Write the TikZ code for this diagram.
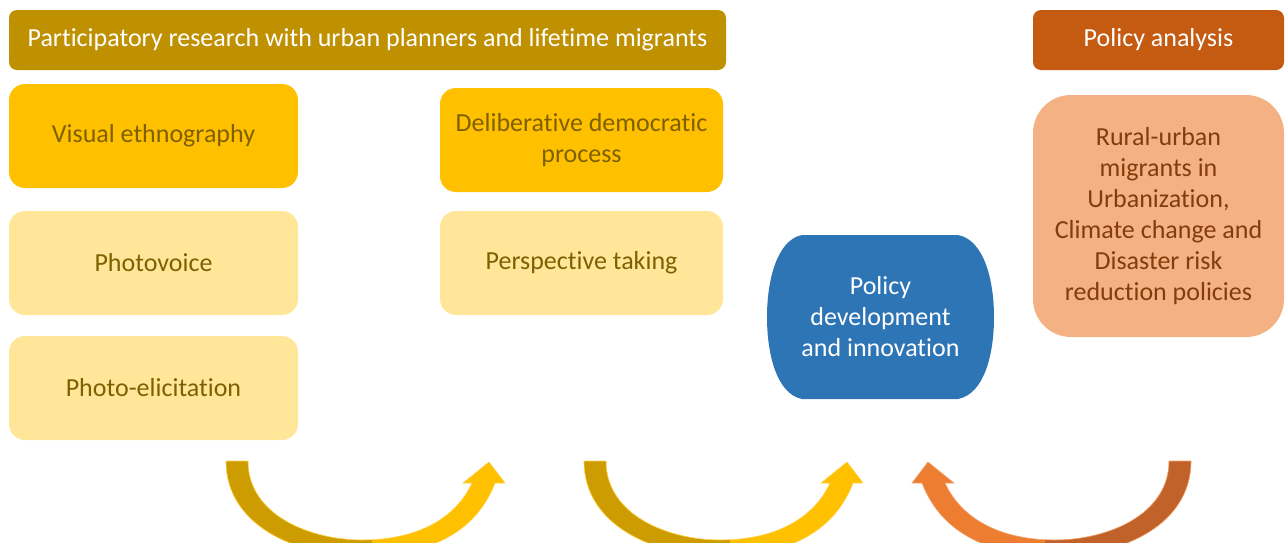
\documentclass[tikz,border=0pt]{standalone}
\usepackage{fontspec}
\setmainfont{Carlito}[Ligatures=NoCommon]
\definecolor{hdrgold}{HTML}{BF9000}
\definecolor{hdrorange}{HTML}{C55A11}
\definecolor{gold}{HTML}{FFC000}
\definecolor{lightgold}{HTML}{FFE699}
\definecolor{darkgoldtext}{HTML}{7F6000}
\definecolor{peach}{HTML}{F4B183}
\definecolor{browntext}{HTML}{843C0C}
\definecolor{polblue}{HTML}{2E75B6}
\definecolor{arrowdark}{HTML}{CC9C00}
\definecolor{arrowlight}{HTML}{FFC000}
\definecolor{orangelight}{HTML}{ED7D31}
\definecolor{orangedark}{HTML}{C0622A}
\tikzset{
  hdr/.style={rounded corners=8pt, text=white, align=center, inner sep=0pt, font=\fontsize{26}{31}\selectfont},
  ybox/.style={rounded corners=16pt, text=darkgoldtext, align=center, inner sep=0pt, minimum width=289pt, minimum height=104pt, font=\fontsize{26}{31}\selectfont},
  rbox/.style={rounded corners=38pt, fill=peach, text=browntext, align=center, inner sep=0pt, font=\fontsize{26}{31}\selectfont},
  btext/.style={text=white, align=center, inner sep=0pt, font=\fontsize{26}{31}\selectfont},
}
\newcommand{\myarrowpath}{(226,461) -- (248,461) .. controls (248,515) and (310,540) .. (362,540) .. controls (415,540) and (455,520) .. (472,483) -- (463,483) -- (489,462) -- (505,483) -- (495,483) .. controls (475,535) and (425,556) .. (362,556) .. controls (295,556) and (226,525) .. (226,461) -- cycle}
\newcommand{\myarrow}[2]{%
  \fill[#2] \myarrowpath;
  \begin{scope}
    \clip (200,440) rectangle (372,570);
    \fill[#1] \myarrowpath;
  \end{scope}
  \draw[#2!70!white, line width=0.6pt] \myarrowpath;
}
\begin{document}
\begin{tikzpicture}[x=1pt,y=-1pt]
\useasboundingbox (0,0) rectangle (1285,542);
% headers
\node[hdr, fill=hdrgold, minimum width=717pt, minimum height=60pt] (hdr1) at (367.5,40) {Participatory research with urban planners and lifetime migrants};
\node[hdr, fill=hdrorange, minimum width=251pt, minimum height=60pt] (hdr2) at (1158.5,40) {Policy analysis};
% left column
\node[ybox, fill=gold] (ve) at (153.5,136) {Visual ethnography};
\node[ybox, fill=lightgold] (pv) at (153.5,263) {Photovoice};
\node[ybox, fill=lightgold] (pe) at (153.5,388) {Photo-elicitation};
% middle column
\node[ybox, fill=gold, minimum width=283pt] (dd) at (581.5,140) {Deliberative democratic\\process};
\node[ybox, fill=lightgold, minimum width=283pt] (pt) at (581.5,263) {Perspective taking};
% right box
\node[rbox, minimum width=251pt, minimum height=242pt] (ru) at (1158.5,216) {Rural-urban\\migrants in\\Urbanization,\\Climate change and\\Disaster risk\\reduction policies};
% blue shape
\fill[polblue] (802,235) -- (958,235) .. controls (984,240) and (994,280) .. (994,317) .. controls (994,355) and (984,394) .. (958,399) -- (802,399) .. controls (777,394) and (767,355) .. (767,317) .. controls (767,280) and (777,240) .. (802,235) -- cycle;
\node[btext] (pd) at (880.5,317) {Policy\\development\\and innovation};
% arrows
\myarrow{arrowdark}{arrowlight}
\begin{scope}[xshift=358pt]
\myarrow{arrowdark}{arrowlight}
\end{scope}
\begin{scope}[xshift=1417pt, xscale=-1]
\myarrow{orangedark}{orangelight}
\end{scope}
\end{tikzpicture}
\end{document}
